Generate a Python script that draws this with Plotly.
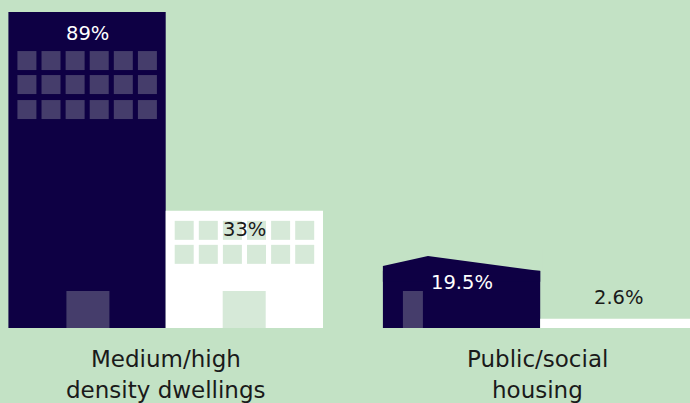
import plotly.graph_objects as go

# --- data ---
categories = ["Medium/high density dwellings", "Public/social housing"]
label_lines = [["Medium/high", "density dwellings"], ["Public/social", "housing"]]
series_a = [89, 19.5]
series_b = [33, 2.6]
labels_a = ["89%", "19.5%"]
labels_b = ["33%", "2.6%"]

# --- styles ---
BG = "#C3E2C5"
DARK = "#0E0044"
WHITE = "#FFFFFF"
WIN_DARK = "#453D6B"
WIN_LIGHT = "#D6E9D8"
INK = "#1A1A1A"
FONT = "DejaVu Sans"
W, H = 690, 403
PX_X = 374.5   # pixels per category step
PX_Y = 3.55    # pixels per value unit
X0, Y0 = 165.7, 328
BAR = 0.42
dx = lambda p: p / PX_X
dy = lambda p: p / PX_Y
left = lambda i, j: i - BAR + j * BAR
centre = lambda i, j: left(i, j) + BAR / 2

fig = go.Figure()
fig.add_bar(x=categories, y=series_a, marker=dict(color=DARK, line_width=0), showlegend=False)
fig.add_bar(x=categories, y=series_b, marker=dict(color=WHITE, line_width=0), showlegend=False)

shapes = []
def rect(x0, x1, y0, y1, color):
    shapes.append(dict(type="rect", xref="x", yref="y", x0=x0, x1=x1, y0=y0, y1=y1,
                       fillcolor=color, line_width=0, layer="above"))

def windows(i, j, top, rows, color):
    for r, row_off in enumerate(rows):
        for c in range(6):
            x0 = left(i, j) + dx(9 + c * 24.1)
            yt = top - dy(row_off)
            rect(x0, x0 + dx(19), yt - dy(19), yt, color)

windows(0, 0, series_a[0], [39, 63, 88], WIN_DARK)
windows(0, 1, series_b[0], [10, 34], WIN_LIGHT)
rect(left(0, 0) + dx(58), left(0, 0) + dx(101), 0, dy(37), WIN_DARK)
rect(left(0, 1) + dx(57), left(0, 1) + dx(100), 0, dy(37), WIN_LIGHT)

# pitched roof of the house
hl, hr = left(1, 0), left(1, 1)
rect(hl - dx(2), hr + dx(2), series_a[1] - 3.4, series_a[1] + 3, BG)
roof_l, roof_p, roof_r = series_a[1] - 2.05, series_a[1] + 0.78, series_a[1] - 3.45
px0 = hl; px1 = hl + dx(45); px2 = hr
base = series_a[1] - 6.5
sx = lambda v: X0 + v * PX_X
sy = lambda v: Y0 - v * PX_Y
shapes.append(dict(type="path", xref="paper", yref="paper",
    path="M {:.4f} {:.4f} L {:.4f} {:.4f} L {:.4f} {:.4f} L {:.4f} {:.4f} L {:.4f} {:.4f} Z".format(
        sx(px0) / W, 1 - sy(base) / H, sx(px0) / W, 1 - sy(roof_l) / H,
        sx(px1) / W, 1 - sy(roof_p) / H, sx(px2) / W, 1 - sy(roof_r) / H,
        sx(px2) / W, 1 - sy(base) / H),
    fillcolor=DARK, line_width=0, layer="above"))
rect(hl + dx(20), hl + dx(40), 0, dy(37), WIN_DARK)

ann = []
def value_label(i, j, val, text, off, color):
    ann.append(dict(x=centre(i, j), y=val, xref="x", yref="y", text=text, showarrow=False,
                    yshift=-off, yanchor="middle", xanchor="center",
                    font=dict(family=FONT, size=19.5, color=color)))

value_label(0, 0, series_a[0], labels_a[0], 21, WHITE)
value_label(0, 1, series_b[0], labels_b[0], 19, INK)
value_label(1, 0, series_a[1], labels_a[1], 24, WHITE)
value_label(1, 1, series_b[1], labels_b[1], -21, INK)

for i, (lines, shift) in enumerate(zip(label_lines, [0, -3])):
    for k, line in enumerate(lines):
        ann.append(dict(x=i, y=0, xref="x", yref="y", text=line, showarrow=False,
                        xshift=shift, yshift=-(31 + k * 31), yanchor="middle", xanchor="center",
                        font=dict(family=FONT, size=23, color=INK)))

fig.update_layout(
    width=W, height=H, margin=dict(l=0, r=0, t=0, b=0),
    paper_bgcolor=BG, plot_bgcolor=BG,
    barmode="group", bargap=1 - 2 * BAR, bargroupgap=0,
    shapes=shapes, annotations=ann,
    xaxis=dict(type="category", categoryorder="array", categoryarray=categories,
               range=[-X0 / PX_X, (W - X0) / PX_X], showticklabels=False,
               showgrid=False, zeroline=False, showline=False, ticks=""),
    yaxis=dict(range=[-(H - Y0) / PX_Y, Y0 / PX_Y], visible=False,
               showgrid=False, zeroline=False),
)
fig.write_html("out.html", config={"displayModeBar": False},
               post_script="document.body.style.margin='0';document.body.style.background='%s';" % BG)
